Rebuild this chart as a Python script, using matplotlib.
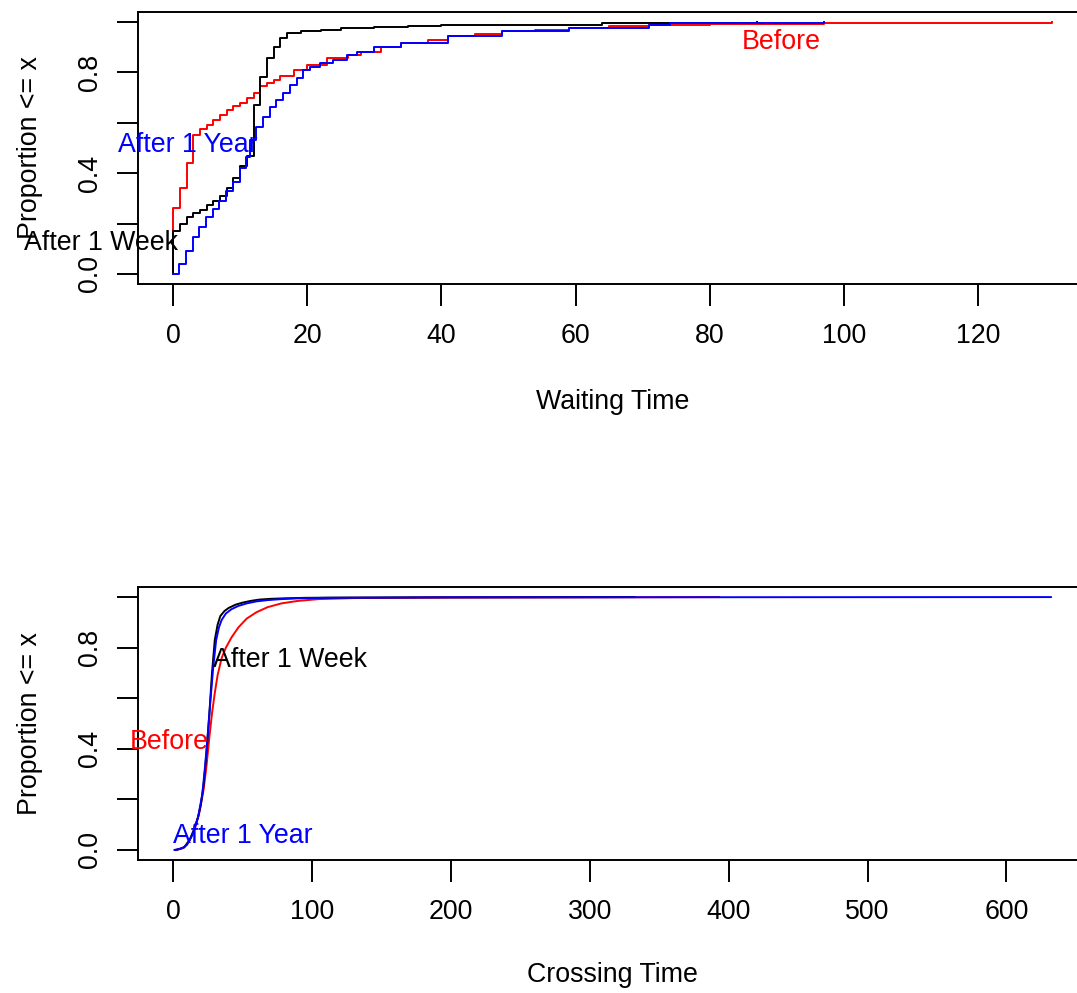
import matplotlib
matplotlib.use("Agg")
import matplotlib.pyplot as plt

plt.rcParams['font.family'] = ['Liberation Sans', 'DejaVu Sans']

# waiting time ecdf, step points (x, cumulative proportion)
wait_x_before = [0, 0, 1.1, 2.1, 2.9, 4, 5, 6, 7, 8, 9, 10, 11, 12, 13, 14, 15, 16, 18, 20, 23, 26,
                 28, 31, 34, 38, 41, 45, 49, 54, 59, 65, 71, 80, 97, 131]
wait_y_before = [0, 0.26, 0.34, 0.44, 0.55, 0.575, 0.59, 0.61, 0.63, 0.65, 0.665, 0.68, 0.70, 0.72,
                 0.745, 0.76, 0.77, 0.785, 0.81, 0.83, 0.856, 0.87, 0.883, 0.90, 0.916, 0.93, 0.943,
                 0.953, 0.963, 0.97, 0.976, 0.985, 0.99, 0.993, 0.996, 1.0]

wait_x_week = [0, 0, 1, 2, 3, 4, 5, 6, 7, 8, 9, 10, 11, 12, 13, 14, 15, 16, 17, 19, 22, 25, 30,
               35, 40, 45, 64, 87]
wait_y_week = [0, 0.17, 0.20, 0.225, 0.24, 0.255, 0.275, 0.29, 0.31, 0.34, 0.38, 0.43, 0.47, 0.67,
               0.78, 0.856, 0.90, 0.936, 0.955, 0.963, 0.97, 0.976, 0.98, 0.983, 0.987, 0.99,
               0.995, 1.0]

wait_x_year = [0, 0.9, 1.9, 2.9, 3.9, 4.9, 5.9, 6.9, 7.9, 8.9, 9.9, 10.9, 11.4, 12.4, 13.4, 14.4,
               15.4, 16.4, 17.4, 18.4, 19.4, 20.4, 21.9, 23.9, 25.9, 27.4, 30, 34, 41, 49, 59,
               71, 74, 85, 97]
wait_y_year = [0, 0.04, 0.092, 0.145, 0.185, 0.225, 0.258, 0.29, 0.33, 0.364, 0.42, 0.464, 0.53,
               0.584, 0.623, 0.663, 0.69, 0.717, 0.75, 0.776, 0.81, 0.82, 0.836, 0.85, 0.87,
               0.883, 0.90, 0.916, 0.943, 0.963, 0.976, 0.99, 0.995, 0.998, 1.0]

# crossing time ecdf
cross_x_before = [3, 8, 12, 16, 19, 22, 24, 26, 28, 30, 32, 35, 38, 42, 47, 53, 60, 68, 78, 90,
                  105, 130, 200, 393]
cross_y_before = [0, 0.01, 0.04, 0.09, 0.15, 0.24, 0.33, 0.44, 0.54, 0.62, 0.69, 0.76, 0.80,
                  0.84, 0.88, 0.915, 0.94, 0.96, 0.975, 0.985, 0.992, 0.996, 0.998, 1.0]

cross_x_week = [2, 8, 12, 15, 18, 20, 22, 24, 26, 28, 30, 32, 34, 37, 40, 45, 50, 56, 62, 70, 80,
                95, 120, 180, 332]
cross_y_week = [0, 0.01, 0.04, 0.08, 0.13, 0.18, 0.26, 0.38, 0.53, 0.70, 0.83, 0.89, 0.925,
                0.945, 0.957, 0.97, 0.978, 0.985, 0.99, 0.993, 0.995, 0.997, 0.998, 0.999, 1.0]

cross_x_year = [1, 6, 10, 14, 18, 21, 23, 25, 27, 29, 31, 33, 35, 38, 42, 47, 53, 60, 68, 78, 90,
                110, 200, 632]
cross_y_year = [0, 0.005, 0.02, 0.06, 0.13, 0.22, 0.33, 0.46, 0.60, 0.73, 0.83, 0.88, 0.91,
                0.935, 0.952, 0.965, 0.975, 0.983, 0.988, 0.992, 0.995, 0.997, 0.999, 1.0]

yticks = [0, 0.2, 0.4, 0.6, 0.8, 1.0]
ytick_labels = ['0.0', '', '0.4', '', '0.8', '']

FS = 19.3
LW = 1.4

fig = plt.figure(figsize=(10.77, 9.93), dpi=100)
ax1 = fig.add_axes([0.1281, 0.714, 0.8812, 0.2739])
ax2 = fig.add_axes([0.1281, 0.1339, 0.8812, 0.275])


def style(ax, xlim, xticks, xlabel, xlab_y):
    ax.set_xlim(*xlim)
    ax.set_ylim(-0.04, 1.04)
    ax.set_xticks(xticks)
    ax.set_yticks(yticks)
    ax.set_yticklabels(ytick_labels, rotation=90, va='center')
    ax.tick_params(axis='x', length=16, width=LW, pad=12, labelsize=FS)
    ax.tick_params(axis='y', length=15, width=LW, pad=10, labelsize=FS)
    for s in ax.spines.values():
        s.set_linewidth(LW)
    ax.set_xlabel(xlabel, fontsize=FS)
    ax.xaxis.set_label_coords(0.5, xlab_y)
    ax.xaxis.label.set_va('center')
    ax.set_ylabel('Proportion <= x', fontsize=FS)
    ax.yaxis.set_label_coords(-0.1, 0.5)


ax1.plot(wait_x_before, wait_y_before, color='red', lw=LW, drawstyle='steps-post')
ax1.plot(wait_x_week, wait_y_week, color='black', lw=LW, drawstyle='steps-post')
ax1.plot(wait_x_year, wait_y_year, color='blue', lw=LW, drawstyle='steps-post')
style(ax1, (-5.24, 136.24), [0, 20, 40, 60, 80, 100, 120], 'Waiting Time', -0.434)
ax1.text(90.7, 0.92, 'Before', color='red', fontsize=FS, ha='center', va='center', clip_on=False)
ax1.text(2.2, 0.51, 'After 1 Year', color='blue', fontsize=FS, ha='center', va='center', clip_on=False)
ax1.text(-10.7, 0.124, 'After 1 Week', color='black', fontsize=FS, ha='center', va='center', clip_on=False)

ax2.plot(cross_x_before, cross_y_before, color='red', lw=LW)
ax2.plot(cross_x_week, cross_y_week, color='black', lw=LW)
ax2.plot(cross_x_year, cross_y_year, color='blue', lw=LW)
style(ax2, (-25.3, 658), [0, 100, 200, 300, 400, 500, 600], 'Crossing Time', -0.42)
ax2.text(84, 0.75, 'After 1 Week', color='black', fontsize=FS, ha='center', va='center', clip_on=False)
ax2.text(-2.5, 0.426, 'Before', color='red', fontsize=FS, ha='center', va='center', clip_on=False)
ax2.text(50, 0.057, 'After 1 Year', color='blue', fontsize=FS, ha='center', va='center', clip_on=False)

fig.savefig('out.png', dpi=100)
